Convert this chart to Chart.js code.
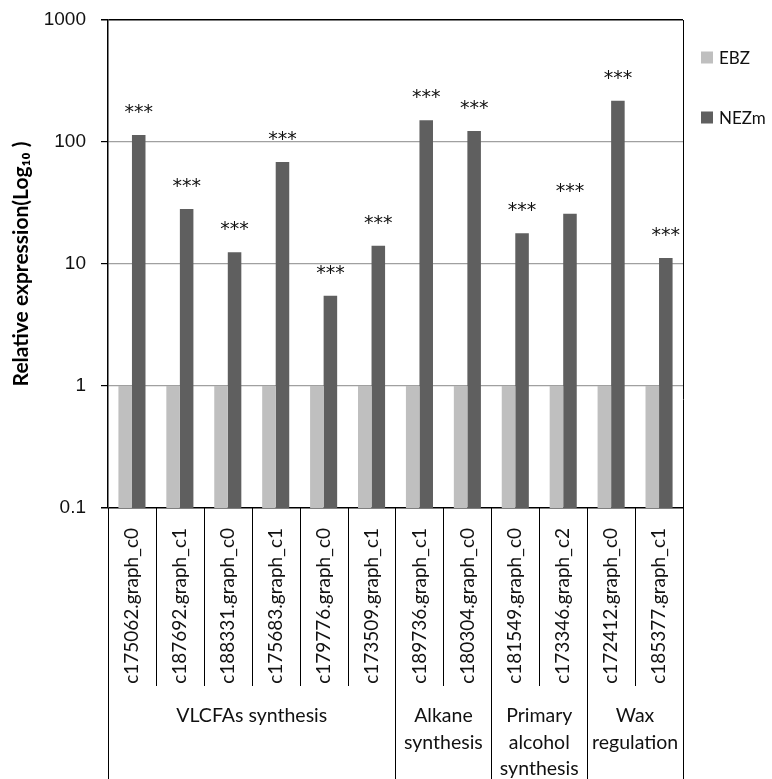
<!DOCTYPE html>
<html>
<head>
<meta charset="utf-8">
<script src="https://cdn.jsdelivr.net/npm/chart.js@4.4.0/dist/chart.umd.min.js"></script>
<style>
  html, body { margin: 0; padding: 0; background: #fff; }
  #wrap { width: 772px; height: 779px; }
</style>
</head>
<body>
<div id="wrap"><canvas id="expressionChart"></canvas></div>
<script>
// Genes (x categories), grouped by pathway
const genes = [
    'c175062.graph_c0', 'c187692.graph_c1', 'c188331.graph_c0', 'c175683.graph_c1',
    'c179776.graph_c0', 'c173509.graph_c1', 'c189736.graph_c1', 'c180304.graph_c0',
    'c181549.graph_c0', 'c173346.graph_c2', 'c172412.graph_c0', 'c185377.graph_c1'
];
const groupNames = [
    ['VLCFAs synthesis'],
    ['Alkane', 'synthesis'],
    ['Primary', 'alcohol', 'synthesis'],
    ['Wax', 'regulation']
];
const groupSizes = [6, 2, 2, 2];

// Relative expression values
const ebzValues = [1, 1, 1, 1, 1, 1, 1, 1, 1, 1, 1, 1];
const nezmValues = [114, 28.2, 12.5, 68.6, 5.5, 14.1, 151, 123, 17.9, 25.8, 218, 11.2];
const significance = ['***', '***', '***', '***', '***', '***', '***', '***', '***', '***', '***', '***'];

const yTicks = [0.1, 1, 10, 100, 1000];

const calibriLike = 'Lato, "Open Sans", sans-serif';

// Stars above NEZm bars, frame lines, group boxes and the legend
const decorPlugin = {
    id: 'decor',
    afterDatasetsDraw(chart) {
        const ctx = chart.ctx;
        const meta = chart.getDatasetMeta(1);
        ctx.save();
        ctx.fillStyle = '#111';
        ctx.font = '19px "DejaVu Sans", sans-serif';
        ctx.textAlign = 'center';
        ctx.textBaseline = 'middle';
        meta.data.forEach((bar, i) => {
            ctx.fillText(significance[i], bar.x, bar.y - 22);
        });
        ctx.restore();
    },
    afterDraw(chart) {
        const ctx = chart.ctx;
        const area = chart.chartArea;
        const xScale = chart.scales.x;
        const bottom = chart.height;
        const step = (area.right - area.left) / genes.length;
        ctx.save();
        ctx.strokeStyle = '#000';
        ctx.lineWidth = 1;

        // left and right frame lines down to the bottom
        ctx.beginPath();
        ctx.moveTo(Math.round(area.left) + 0.5, area.bottom);
        ctx.lineTo(Math.round(area.left) + 0.5, bottom);
        ctx.moveTo(Math.round(area.right) + 0.5, area.top);
        ctx.lineTo(Math.round(area.right) + 0.5, bottom);
        ctx.stroke();

        // separators between genes and between groups
        let idx = 0;
        ctx.font = '19.5px ' + calibriLike;
        ctx.fillStyle = '#111';
        ctx.textAlign = 'center';
        ctx.textBaseline = 'alphabetic';
        groupSizes.forEach((size, g) => {
            const startX = xScale.getPixelForValue(idx) - step / 2;
            for (let k = 1; k < size; k++) {
                const x = Math.round(xScale.getPixelForValue(idx + k) - step / 2) + 0.5;
                ctx.beginPath();
                ctx.moveTo(x, area.bottom);
                ctx.lineTo(x, 686);
                ctx.stroke();
            }
            idx += size;
            const endX = xScale.getPixelForValue(idx - 1) + step / 2;
            if (idx < genes.length) {
                const x = Math.round(endX) + 0.5;
                ctx.beginPath();
                ctx.moveTo(x, area.bottom);
                ctx.lineTo(x, bottom);
                ctx.stroke();
            }
            groupNames[g].forEach((line, j) => {
                ctx.fillText(line, (startX + endX) / 2, 722 + j * 26.5);
            });
        });

        // legend
        ctx.font = '17px ' + calibriLike;
        ctx.textAlign = 'left';
        ctx.textBaseline = 'middle';
        chart.data.datasets.forEach((ds, i) => {
            const cy = 57.5 + i * 60;
            ctx.fillStyle = ds.backgroundColor;
            ctx.fillRect(701, cy - 6, 12, 12);
            ctx.fillStyle = '#111';
            ctx.fillText(ds.label, 719, cy + 1);
        });
        ctx.restore();
    }
};

const ctx = document.getElementById('expressionChart').getContext('2d');
new Chart(ctx, {
    type: 'bar',
    data: {
        labels: genes,
        datasets: [
            { label: 'EBZ', data: ebzValues, backgroundColor: '#bfbfbf' },
            { label: 'NEZm', data: nezmValues, backgroundColor: '#5f5f5f' }
        ]
    },
    options: {
        responsive: true,
        maintainAspectRatio: false,
        animation: false,
        layout: { padding: { top: 20, right: 89, left: 0, bottom: 0 } },
        datasets: {
            bar: { categoryPercentage: 0.565, barPercentage: 1.0 }
        },
        plugins: {
            legend: { display: false },
            tooltip: { enabled: false }
        },
        scales: {
            x: {
                grid: { display: false },
                border: { display: false },
                ticks: {
                    minRotation: 90,
                    maxRotation: 90,
                    autoSkip: false,
                    padding: 12,
                    color: '#111',
                    font: { family: calibriLike, size: 19 }
                },
                afterFit(scale) {
                    scale.height = 271;
                    scale.paddingLeft = 0;
                    scale.paddingRight = 0;
                }
            },
            y: {
                type: 'logarithmic',
                min: 0.1,
                max: 1000,
                afterBuildTicks(scale) {
                    scale.ticks = yTicks.map(v => ({ value: v }));
                },
                afterFit(scale) {
                    scale.width = 108;
                    scale.paddingTop = 0;
                    scale.paddingBottom = 0;
                },
                ticks: {
                    padding: 15,
                    color: '#111',
                    font: { family: '"Liberation Sans", Arial, sans-serif', size: 19 },
                    callback: v => String(v)
                },
                grid: {
                    tickLength: 7,
                    tickColor: '#000',
                    color: c => (c.tick && (c.tick.value === 0.1 || c.tick.value === 1000)) ? '#000' : '#a0a0a0',
                    lineWidth: c => (c.tick && (c.tick.value === 0.1 || c.tick.value === 1000)) ? 1.5 : 1.2
                },
                border: { display: true, color: '#000', width: 1.5 },
                title: {
                    display: true,
                    text: 'Relative expression(Log\u2081\u2080 )',
                    color: '#000',
                    font: { family: calibriLike, size: 21, weight: 'bold' },
                    padding: { top: 9, bottom: 0 }
                }
            }
        }
    },
    plugins: [decorPlugin]
});
</script>
</body>
</html>
